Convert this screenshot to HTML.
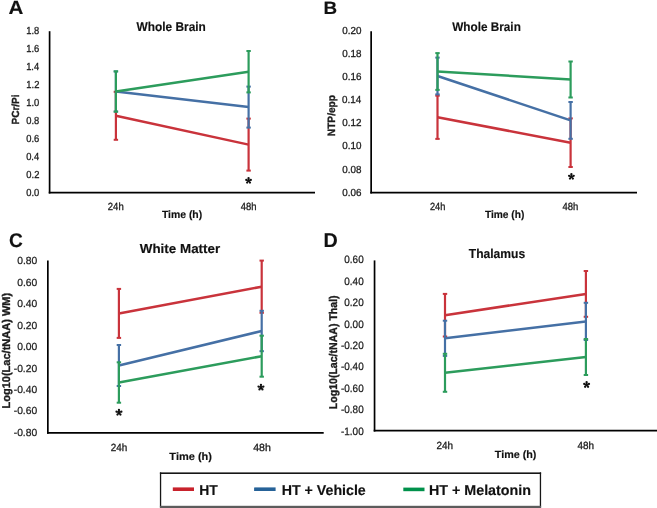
<!DOCTYPE html>
<html><head><meta charset="utf-8"><style>
html,body{margin:0;padding:0;background:#fff;}
svg{display:block;font-family:"Liberation Sans", sans-serif;will-change:transform;text-rendering:geometricPrecision;}
</style></head><body>
<svg width="657" height="508" viewBox="0 0 657 508">
<rect width="657" height="508" fill="#fff"/>
<text x="8.59" y="14.40" font-size="19.19" font-weight="bold" stroke="#111" stroke-width="0.15" textLength="14.85" lengthAdjust="spacingAndGlyphs" fill="#111">A</text>
<text x="136.59" y="30.80" font-size="12.63" font-weight="bold" stroke="#111" stroke-width="0.15" textLength="69.25" lengthAdjust="spacingAndGlyphs" fill="#111">Whole Brain</text>
<line x1="49.6" y1="31.2" x2="49.6" y2="193.5" stroke="#000" stroke-width="1.7"/>
<line x1="48.75" y1="192.65" x2="315" y2="192.65" stroke="#000" stroke-width="1.7"/>
<text x="26.29" y="33.83" font-size="10.20" stroke="#1c1c1c" stroke-width="0.3" textLength="13.02" lengthAdjust="spacingAndGlyphs" fill="#1c1c1c">1.8</text>
<text x="26.29" y="51.86" font-size="10.20" stroke="#1c1c1c" stroke-width="0.3" textLength="13.02" lengthAdjust="spacingAndGlyphs" fill="#1c1c1c">1.6</text>
<text x="26.15" y="69.89" font-size="10.20" stroke="#1c1c1c" stroke-width="0.3" textLength="13.02" lengthAdjust="spacingAndGlyphs" fill="#1c1c1c">1.4</text>
<text x="26.35" y="87.92" font-size="10.20" stroke="#1c1c1c" stroke-width="0.3" textLength="13.02" lengthAdjust="spacingAndGlyphs" fill="#1c1c1c">1.2</text>
<text x="26.25" y="105.95" font-size="10.20" stroke="#1c1c1c" stroke-width="0.3" textLength="13.02" lengthAdjust="spacingAndGlyphs" fill="#1c1c1c">1.0</text>
<text x="26.29" y="123.98" font-size="10.20" stroke="#1c1c1c" stroke-width="0.3" textLength="13.02" lengthAdjust="spacingAndGlyphs" fill="#1c1c1c">0.8</text>
<text x="26.29" y="142.01" font-size="10.20" stroke="#1c1c1c" stroke-width="0.3" textLength="13.02" lengthAdjust="spacingAndGlyphs" fill="#1c1c1c">0.6</text>
<text x="26.15" y="160.04" font-size="10.20" stroke="#1c1c1c" stroke-width="0.3" textLength="13.02" lengthAdjust="spacingAndGlyphs" fill="#1c1c1c">0.4</text>
<text x="26.35" y="178.07" font-size="10.20" stroke="#1c1c1c" stroke-width="0.3" textLength="13.02" lengthAdjust="spacingAndGlyphs" fill="#1c1c1c">0.2</text>
<text x="26.25" y="196.10" font-size="10.20" stroke="#1c1c1c" stroke-width="0.3" textLength="13.02" lengthAdjust="spacingAndGlyphs" fill="#1c1c1c">0.0</text>
<text x="107.82" y="210.00" font-size="10.40" stroke="#1c1c1c" stroke-width="0.3" textLength="15.90" lengthAdjust="spacingAndGlyphs" fill="#1c1c1c">24h</text>
<text x="240.68" y="210.00" font-size="10.40" stroke="#1c1c1c" stroke-width="0.3" textLength="15.73" lengthAdjust="spacingAndGlyphs" fill="#1c1c1c">48h</text>
<text x="161.88" y="217.90" font-size="10.61" font-weight="bold" stroke="#111" stroke-width="0.15" textLength="40.33" lengthAdjust="spacingAndGlyphs" fill="#111">Time (h)</text>
<text transform="translate(18.90,124.57) rotate(-90)" font-size="10.32" font-weight="bold" stroke="#1c1c1c" stroke-width="0.35" textLength="30.18" lengthAdjust="spacingAndGlyphs" fill="#1c1c1c">PCr/Pi</text>
<line x1="115.9" y1="91.8" x2="115.9" y2="139.8" stroke="#C9333B" stroke-width="2.2"/>
<rect x="113.70" y="90.80" width="4.4" height="2.0" fill="#C9333B"/>
<rect x="113.70" y="138.80" width="4.4" height="2.0" fill="#C9333B"/>
<line x1="248.6" y1="118.6" x2="248.6" y2="170.6" stroke="#C9333B" stroke-width="2.2"/>
<rect x="246.40" y="117.60" width="4.4" height="2.0" fill="#C9333B"/>
<rect x="246.40" y="169.60" width="4.4" height="2.0" fill="#C9333B"/>
<line x1="115.9" y1="115.8" x2="248.6" y2="144.6" stroke="#C9333B" stroke-width="2.5"/>
<line x1="115.9" y1="71.5" x2="115.9" y2="111.5" stroke="#4570A5" stroke-width="2.2"/>
<rect x="113.70" y="70.50" width="4.4" height="2.0" fill="#4570A5"/>
<rect x="113.70" y="110.50" width="4.4" height="2.0" fill="#4570A5"/>
<line x1="248.6" y1="86.6" x2="248.6" y2="127.6" stroke="#4570A5" stroke-width="2.2"/>
<rect x="246.40" y="85.60" width="4.4" height="2.0" fill="#4570A5"/>
<rect x="246.40" y="126.60" width="4.4" height="2.0" fill="#4570A5"/>
<line x1="115.9" y1="91.5" x2="248.6" y2="107.1" stroke="#4570A5" stroke-width="2.5"/>
<line x1="115.9" y1="71.3" x2="115.9" y2="111.7" stroke="#2C9C5C" stroke-width="2.2"/>
<rect x="113.70" y="70.30" width="4.4" height="2.0" fill="#2C9C5C"/>
<rect x="113.70" y="110.70" width="4.4" height="2.0" fill="#2C9C5C"/>
<line x1="248.6" y1="51.0" x2="248.6" y2="92.4" stroke="#2C9C5C" stroke-width="2.2"/>
<rect x="246.40" y="50.00" width="4.4" height="2.0" fill="#2C9C5C"/>
<rect x="246.40" y="91.40" width="4.4" height="2.0" fill="#2C9C5C"/>
<line x1="115.9" y1="91.5" x2="248.6" y2="71.7" stroke="#2C9C5C" stroke-width="2.5"/>
<path d="M248.55 180.63L248.55 178.25M248.55 180.63L250.81 179.89M248.55 180.63L249.95 182.55M248.55 180.63L247.15 182.55M248.55 180.63L246.29 179.89" stroke="#111" stroke-width="1.35" fill="none"/><circle cx="248.55" cy="178.25" r="1.15" fill="#111"/><circle cx="250.81" cy="179.89" r="1.15" fill="#111"/><circle cx="249.95" cy="182.55" r="1.15" fill="#111"/><circle cx="247.15" cy="182.55" r="1.15" fill="#111"/><circle cx="246.29" cy="179.89" r="1.15" fill="#111"/>
<text x="323.64" y="14.00" font-size="17.73" font-weight="bold" stroke="#111" stroke-width="0.15" textLength="13.62" lengthAdjust="spacingAndGlyphs" fill="#111">B</text>
<text x="452.29" y="30.70" font-size="12.56" font-weight="bold" stroke="#111" stroke-width="0.15" textLength="68.54" lengthAdjust="spacingAndGlyphs" fill="#111">Whole Brain</text>
<line x1="371.15" y1="31.2" x2="371.15" y2="193.5" stroke="#000" stroke-width="1.7"/>
<line x1="370.29999999999995" y1="192.65" x2="637" y2="192.65" stroke="#000" stroke-width="1.7"/>
<text x="342.22" y="33.93" font-size="10.20" stroke="#1c1c1c" stroke-width="0.3" textLength="19.17" lengthAdjust="spacingAndGlyphs" fill="#1c1c1c">0.20</text>
<text x="342.26" y="57.03" font-size="10.20" stroke="#1c1c1c" stroke-width="0.3" textLength="19.17" lengthAdjust="spacingAndGlyphs" fill="#1c1c1c">0.18</text>
<text x="342.26" y="80.13" font-size="10.20" stroke="#1c1c1c" stroke-width="0.3" textLength="19.17" lengthAdjust="spacingAndGlyphs" fill="#1c1c1c">0.16</text>
<text x="342.12" y="103.23" font-size="10.20" stroke="#1c1c1c" stroke-width="0.3" textLength="19.17" lengthAdjust="spacingAndGlyphs" fill="#1c1c1c">0.14</text>
<text x="342.33" y="126.33" font-size="10.20" stroke="#1c1c1c" stroke-width="0.3" textLength="19.17" lengthAdjust="spacingAndGlyphs" fill="#1c1c1c">0.12</text>
<text x="342.22" y="149.43" font-size="10.20" stroke="#1c1c1c" stroke-width="0.3" textLength="19.17" lengthAdjust="spacingAndGlyphs" fill="#1c1c1c">0.10</text>
<text x="342.26" y="172.53" font-size="10.20" stroke="#1c1c1c" stroke-width="0.3" textLength="19.17" lengthAdjust="spacingAndGlyphs" fill="#1c1c1c">0.08</text>
<text x="342.26" y="195.63" font-size="10.20" stroke="#1c1c1c" stroke-width="0.3" textLength="19.17" lengthAdjust="spacingAndGlyphs" fill="#1c1c1c">0.06</text>
<text x="429.94" y="210.10" font-size="10.40" stroke="#1c1c1c" stroke-width="0.3" textLength="15.36" lengthAdjust="spacingAndGlyphs" fill="#1c1c1c">24h</text>
<text x="562.48" y="210.10" font-size="10.40" stroke="#1c1c1c" stroke-width="0.3" textLength="15.83" lengthAdjust="spacingAndGlyphs" fill="#1c1c1c">48h</text>
<text x="484.89" y="218.30" font-size="10.61" font-weight="bold" stroke="#111" stroke-width="0.15" textLength="39.52" lengthAdjust="spacingAndGlyphs" fill="#111">Time (h)</text>
<text transform="translate(335.40,136.18) rotate(-90)" font-size="10.61" font-weight="bold" stroke="#1c1c1c" stroke-width="0.35" textLength="41.20" lengthAdjust="spacingAndGlyphs" fill="#1c1c1c">NTP/epp</text>
<line x1="437.5" y1="95.69999999999999" x2="437.5" y2="138.9" stroke="#C9333B" stroke-width="2.2"/>
<rect x="435.30" y="94.70" width="4.4" height="2.0" fill="#C9333B"/>
<rect x="435.30" y="137.90" width="4.4" height="2.0" fill="#C9333B"/>
<line x1="570.6" y1="118.39999999999999" x2="570.6" y2="167.0" stroke="#C9333B" stroke-width="2.2"/>
<rect x="568.40" y="117.40" width="4.4" height="2.0" fill="#C9333B"/>
<rect x="568.40" y="166.00" width="4.4" height="2.0" fill="#C9333B"/>
<line x1="437.5" y1="117.3" x2="570.6" y2="142.7" stroke="#C9333B" stroke-width="2.5"/>
<line x1="437.5" y1="57.6" x2="437.5" y2="94.4" stroke="#4570A5" stroke-width="2.2"/>
<rect x="435.30" y="56.60" width="4.4" height="2.0" fill="#4570A5"/>
<rect x="435.30" y="93.40" width="4.4" height="2.0" fill="#4570A5"/>
<line x1="570.6" y1="102.0" x2="570.6" y2="138.8" stroke="#4570A5" stroke-width="2.2"/>
<rect x="568.40" y="101.00" width="4.4" height="2.0" fill="#4570A5"/>
<rect x="568.40" y="137.80" width="4.4" height="2.0" fill="#4570A5"/>
<line x1="437.5" y1="76" x2="570.6" y2="120.4" stroke="#4570A5" stroke-width="2.5"/>
<line x1="437.5" y1="53.1" x2="437.5" y2="89.9" stroke="#2C9C5C" stroke-width="2.2"/>
<rect x="435.30" y="52.10" width="4.4" height="2.0" fill="#2C9C5C"/>
<rect x="435.30" y="88.90" width="4.4" height="2.0" fill="#2C9C5C"/>
<line x1="570.6" y1="61.5" x2="570.6" y2="97.5" stroke="#2C9C5C" stroke-width="2.2"/>
<rect x="568.40" y="60.50" width="4.4" height="2.0" fill="#2C9C5C"/>
<rect x="568.40" y="96.50" width="4.4" height="2.0" fill="#2C9C5C"/>
<line x1="437.5" y1="71.5" x2="570.6" y2="79.5" stroke="#2C9C5C" stroke-width="2.5"/>
<path d="M571.40 176.58L571.40 174.15M571.40 176.58L573.71 175.83M571.40 176.58L572.83 178.55M571.40 176.58L569.97 178.55M571.40 176.58L569.09 175.83" stroke="#111" stroke-width="1.35" fill="none"/><circle cx="571.40" cy="174.15" r="1.15" fill="#111"/><circle cx="573.71" cy="175.83" r="1.15" fill="#111"/><circle cx="572.83" cy="178.55" r="1.15" fill="#111"/><circle cx="569.97" cy="178.55" r="1.15" fill="#111"/><circle cx="569.09" cy="175.83" r="1.15" fill="#111"/>
<text x="8.92" y="246.70" font-size="19.76" font-weight="bold" stroke="#111" stroke-width="0.15" textLength="13.81" lengthAdjust="spacingAndGlyphs" fill="#111">C</text>
<text x="139.79" y="252.60" font-size="12.94" font-weight="bold" stroke="#111" stroke-width="0.15" textLength="80.42" lengthAdjust="spacingAndGlyphs" fill="#111">White Matter</text>
<line x1="47.85" y1="260.4" x2="47.85" y2="433.75" stroke="#000" stroke-width="1.7"/>
<line x1="47.0" y1="432.9" x2="323.7" y2="432.9" stroke="#000" stroke-width="1.7"/>
<text x="17.16" y="264.47" font-size="10.30" stroke="#1c1c1c" stroke-width="0.25" textLength="20.04" lengthAdjust="spacingAndGlyphs" fill="#1c1c1c">0.80</text>
<text x="17.16" y="285.90" font-size="10.30" stroke="#1c1c1c" stroke-width="0.25" textLength="20.04" lengthAdjust="spacingAndGlyphs" fill="#1c1c1c">0.60</text>
<text x="17.16" y="307.33" font-size="10.30" stroke="#1c1c1c" stroke-width="0.25" textLength="20.04" lengthAdjust="spacingAndGlyphs" fill="#1c1c1c">0.40</text>
<text x="17.16" y="328.76" font-size="10.30" stroke="#1c1c1c" stroke-width="0.25" textLength="20.04" lengthAdjust="spacingAndGlyphs" fill="#1c1c1c">0.20</text>
<text x="17.16" y="350.19" font-size="10.30" stroke="#1c1c1c" stroke-width="0.25" textLength="20.04" lengthAdjust="spacingAndGlyphs" fill="#1c1c1c">0.00</text>
<text x="13.73" y="371.62" font-size="10.30" stroke="#1c1c1c" stroke-width="0.25" textLength="23.47" lengthAdjust="spacingAndGlyphs" fill="#1c1c1c">-0.20</text>
<text x="13.73" y="393.05" font-size="10.30" stroke="#1c1c1c" stroke-width="0.25" textLength="23.47" lengthAdjust="spacingAndGlyphs" fill="#1c1c1c">-0.40</text>
<text x="13.73" y="414.48" font-size="10.30" stroke="#1c1c1c" stroke-width="0.25" textLength="23.47" lengthAdjust="spacingAndGlyphs" fill="#1c1c1c">-0.60</text>
<text x="13.73" y="435.91" font-size="10.30" stroke="#1c1c1c" stroke-width="0.25" textLength="23.47" lengthAdjust="spacingAndGlyphs" fill="#1c1c1c">-0.80</text>
<text x="110.80" y="451.10" font-size="10.40" stroke="#1c1c1c" stroke-width="0.3" textLength="16.54" lengthAdjust="spacingAndGlyphs" fill="#1c1c1c">24h</text>
<text x="253.26" y="451.10" font-size="10.40" stroke="#1c1c1c" stroke-width="0.3" textLength="17.63" lengthAdjust="spacingAndGlyphs" fill="#1c1c1c">48h</text>
<text x="169.38" y="460.20" font-size="10.61" font-weight="bold" stroke="#111" stroke-width="0.15" textLength="42.57" lengthAdjust="spacingAndGlyphs" fill="#111">Time (h)</text>
<text transform="translate(9.60,408.49) rotate(-90)" font-size="11.19" font-weight="bold" stroke="#1c1c1c" stroke-width="0.35" textLength="115.64" lengthAdjust="spacingAndGlyphs" fill="#1c1c1c">Log10(Lac/tNAA) WM)</text>
<line x1="118.9" y1="288.9" x2="118.9" y2="337.9" stroke="#C9333B" stroke-width="2.2"/>
<rect x="116.70" y="287.90" width="4.4" height="2.0" fill="#C9333B"/>
<rect x="116.70" y="336.90" width="4.4" height="2.0" fill="#C9333B"/>
<line x1="261.7" y1="260.59999999999997" x2="261.7" y2="312.8" stroke="#C9333B" stroke-width="2.2"/>
<rect x="259.50" y="259.60" width="4.4" height="2.0" fill="#C9333B"/>
<rect x="259.50" y="311.80" width="4.4" height="2.0" fill="#C9333B"/>
<line x1="118.9" y1="313.4" x2="261.7" y2="286.7" stroke="#C9333B" stroke-width="2.5"/>
<line x1="118.9" y1="345.0" x2="118.9" y2="386.0" stroke="#4570A5" stroke-width="2.2"/>
<rect x="116.70" y="344.00" width="4.4" height="2.0" fill="#4570A5"/>
<rect x="116.70" y="385.00" width="4.4" height="2.0" fill="#4570A5"/>
<line x1="261.7" y1="310.8" x2="261.7" y2="351.2" stroke="#4570A5" stroke-width="2.2"/>
<rect x="259.50" y="309.80" width="4.4" height="2.0" fill="#4570A5"/>
<rect x="259.50" y="350.20" width="4.4" height="2.0" fill="#4570A5"/>
<line x1="118.9" y1="365.5" x2="261.7" y2="331" stroke="#4570A5" stroke-width="2.5"/>
<line x1="118.9" y1="362.3" x2="118.9" y2="402.7" stroke="#2C9C5C" stroke-width="2.2"/>
<rect x="116.70" y="361.30" width="4.4" height="2.0" fill="#2C9C5C"/>
<rect x="116.70" y="401.70" width="4.4" height="2.0" fill="#2C9C5C"/>
<line x1="261.7" y1="335.7" x2="261.7" y2="376.7" stroke="#2C9C5C" stroke-width="2.2"/>
<rect x="259.50" y="334.70" width="4.4" height="2.0" fill="#2C9C5C"/>
<rect x="259.50" y="375.70" width="4.4" height="2.0" fill="#2C9C5C"/>
<line x1="118.9" y1="382.5" x2="261.7" y2="356.2" stroke="#2C9C5C" stroke-width="2.5"/>
<path d="M118.95 412.49L118.95 409.95M118.95 412.49L121.37 411.71M118.95 412.49L120.44 414.55M118.95 412.49L117.46 414.55M118.95 412.49L116.53 411.71" stroke="#111" stroke-width="1.35" fill="none"/><circle cx="118.95" cy="409.95" r="1.15" fill="#111"/><circle cx="121.37" cy="411.71" r="1.15" fill="#111"/><circle cx="120.44" cy="414.55" r="1.15" fill="#111"/><circle cx="117.46" cy="414.55" r="1.15" fill="#111"/><circle cx="116.53" cy="411.71" r="1.15" fill="#111"/>
<path d="M260.95 387.39L260.95 384.85M260.95 387.39L263.37 386.61M260.95 387.39L262.44 389.45M260.95 387.39L259.46 389.45M260.95 387.39L258.53 386.61" stroke="#111" stroke-width="1.35" fill="none"/><circle cx="260.95" cy="384.85" r="1.15" fill="#111"/><circle cx="263.37" cy="386.61" r="1.15" fill="#111"/><circle cx="262.44" cy="389.45" r="1.15" fill="#111"/><circle cx="259.46" cy="389.45" r="1.15" fill="#111"/><circle cx="258.53" cy="386.61" r="1.15" fill="#111"/>
<text x="323.58" y="247.20" font-size="19.91" font-weight="bold" stroke="#111" stroke-width="0.15" textLength="14.25" lengthAdjust="spacingAndGlyphs" fill="#111">D</text>
<text x="468.76" y="257.60" font-size="12.94" font-weight="bold" stroke="#111" stroke-width="0.15" textLength="56.43" lengthAdjust="spacingAndGlyphs" fill="#111">Thalamus</text>
<line x1="374.55" y1="260.4" x2="374.55" y2="431.55" stroke="#000" stroke-width="1.7"/>
<line x1="373.7" y1="430.7" x2="657" y2="430.7" stroke="#000" stroke-width="1.7"/>
<text x="344.31" y="263.46" font-size="10.70" stroke="#1c1c1c" stroke-width="0.25" textLength="19.38" lengthAdjust="spacingAndGlyphs" fill="#1c1c1c">0.60</text>
<text x="344.31" y="284.86" font-size="10.70" stroke="#1c1c1c" stroke-width="0.25" textLength="19.38" lengthAdjust="spacingAndGlyphs" fill="#1c1c1c">0.40</text>
<text x="344.31" y="306.26" font-size="10.70" stroke="#1c1c1c" stroke-width="0.25" textLength="19.38" lengthAdjust="spacingAndGlyphs" fill="#1c1c1c">0.20</text>
<text x="344.31" y="327.66" font-size="10.70" stroke="#1c1c1c" stroke-width="0.25" textLength="19.38" lengthAdjust="spacingAndGlyphs" fill="#1c1c1c">0.00</text>
<text x="341.00" y="349.06" font-size="10.70" stroke="#1c1c1c" stroke-width="0.25" textLength="22.69" lengthAdjust="spacingAndGlyphs" fill="#1c1c1c">-0.20</text>
<text x="341.00" y="370.46" font-size="10.70" stroke="#1c1c1c" stroke-width="0.25" textLength="22.69" lengthAdjust="spacingAndGlyphs" fill="#1c1c1c">-0.40</text>
<text x="341.00" y="391.86" font-size="10.70" stroke="#1c1c1c" stroke-width="0.25" textLength="22.69" lengthAdjust="spacingAndGlyphs" fill="#1c1c1c">-0.60</text>
<text x="341.00" y="413.26" font-size="10.70" stroke="#1c1c1c" stroke-width="0.25" textLength="22.69" lengthAdjust="spacingAndGlyphs" fill="#1c1c1c">-0.80</text>
<text x="341.00" y="434.66" font-size="10.70" stroke="#1c1c1c" stroke-width="0.25" textLength="22.69" lengthAdjust="spacingAndGlyphs" fill="#1c1c1c">-1.00</text>
<text x="436.60" y="449.20" font-size="10.40" stroke="#1c1c1c" stroke-width="0.3" textLength="16.54" lengthAdjust="spacingAndGlyphs" fill="#1c1c1c">24h</text>
<text x="577.57" y="449.20" font-size="10.40" stroke="#1c1c1c" stroke-width="0.3" textLength="16.57" lengthAdjust="spacingAndGlyphs" fill="#1c1c1c">48h</text>
<text x="494.78" y="457.60" font-size="10.61" font-weight="bold" stroke="#111" stroke-width="0.15" textLength="41.65" lengthAdjust="spacingAndGlyphs" fill="#111">Time (h)</text>
<text transform="translate(336.80,409.21) rotate(-90)" font-size="11.19" font-weight="bold" stroke="#1c1c1c" stroke-width="0.35" textLength="113.83" lengthAdjust="spacingAndGlyphs" fill="#1c1c1c">Log10(Lac/tNAA) Thal)</text>
<line x1="445" y1="293.9" x2="445" y2="336.5" stroke="#C9333B" stroke-width="2.2"/>
<rect x="442.80" y="292.90" width="4.4" height="2.0" fill="#C9333B"/>
<rect x="442.80" y="335.50" width="4.4" height="2.0" fill="#C9333B"/>
<line x1="585.9" y1="271.0" x2="585.9" y2="316.79999999999995" stroke="#C9333B" stroke-width="2.2"/>
<rect x="583.70" y="270.00" width="4.4" height="2.0" fill="#C9333B"/>
<rect x="583.70" y="315.80" width="4.4" height="2.0" fill="#C9333B"/>
<line x1="445" y1="315.2" x2="585.9" y2="293.9" stroke="#C9333B" stroke-width="2.5"/>
<line x1="445" y1="320.7" x2="445" y2="355.90000000000003" stroke="#4570A5" stroke-width="2.2"/>
<rect x="442.80" y="319.70" width="4.4" height="2.0" fill="#4570A5"/>
<rect x="442.80" y="354.90" width="4.4" height="2.0" fill="#4570A5"/>
<line x1="585.9" y1="302.79999999999995" x2="585.9" y2="340.0" stroke="#4570A5" stroke-width="2.2"/>
<rect x="583.70" y="301.80" width="4.4" height="2.0" fill="#4570A5"/>
<rect x="583.70" y="339.00" width="4.4" height="2.0" fill="#4570A5"/>
<line x1="445" y1="338.3" x2="585.9" y2="321.4" stroke="#4570A5" stroke-width="2.5"/>
<line x1="445" y1="353.8" x2="445" y2="391.8" stroke="#2C9C5C" stroke-width="2.2"/>
<rect x="442.80" y="352.80" width="4.4" height="2.0" fill="#2C9C5C"/>
<rect x="442.80" y="390.80" width="4.4" height="2.0" fill="#2C9C5C"/>
<line x1="585.9" y1="339" x2="585.9" y2="375" stroke="#2C9C5C" stroke-width="2.2"/>
<rect x="583.70" y="338.00" width="4.4" height="2.0" fill="#2C9C5C"/>
<rect x="583.70" y="374.00" width="4.4" height="2.0" fill="#2C9C5C"/>
<line x1="445" y1="372.8" x2="585.9" y2="357" stroke="#2C9C5C" stroke-width="2.5"/>
<path d="M586.60 384.74L586.60 382.25M586.60 384.74L588.97 383.97M586.60 384.74L588.06 386.75M586.60 384.74L585.14 386.75M586.60 384.74L584.23 383.97" stroke="#111" stroke-width="1.35" fill="none"/><circle cx="586.60" cy="382.25" r="1.15" fill="#111"/><circle cx="588.97" cy="383.97" r="1.15" fill="#111"/><circle cx="588.06" cy="386.75" r="1.15" fill="#111"/><circle cx="585.14" cy="386.75" r="1.15" fill="#111"/><circle cx="584.23" cy="383.97" r="1.15" fill="#111"/>
<rect x="159.9" y="472.4" width="381.2" height="1.6" fill="#161616"/>
<rect x="159.9" y="472.4" width="1.3" height="35" fill="#161616"/>
<rect x="539.8" y="472.4" width="1.3" height="35" fill="#161616"/>
<rect x="159.9" y="505.8" width="381.2" height="2.2" fill="#5c5c5c"/>
<line x1="172.8" y1="489.2" x2="194" y2="489.2" stroke="#C8222C" stroke-width="3.6"/>
<text x="199.27" y="494.70" font-size="14.32" font-weight="bold" stroke="#111" stroke-width="0.15" textLength="18.58" lengthAdjust="spacingAndGlyphs" fill="#111">HT</text>
<line x1="254.1" y1="489.2" x2="275.6" y2="489.2" stroke="#266298" stroke-width="3.6"/>
<text x="281.66" y="494.70" font-size="14.32" font-weight="bold" stroke="#111" stroke-width="0.15" textLength="84.12" lengthAdjust="spacingAndGlyphs" fill="#111">HT + Vehicle</text>
<line x1="403.3" y1="489.4" x2="424.5" y2="489.4" stroke="#00914B" stroke-width="3.6"/>
<text x="428.94" y="494.70" font-size="14.32" font-weight="bold" stroke="#111" stroke-width="0.15" textLength="102.04" lengthAdjust="spacingAndGlyphs" fill="#111">HT + Melatonin</text>
</svg>
</body></html>
